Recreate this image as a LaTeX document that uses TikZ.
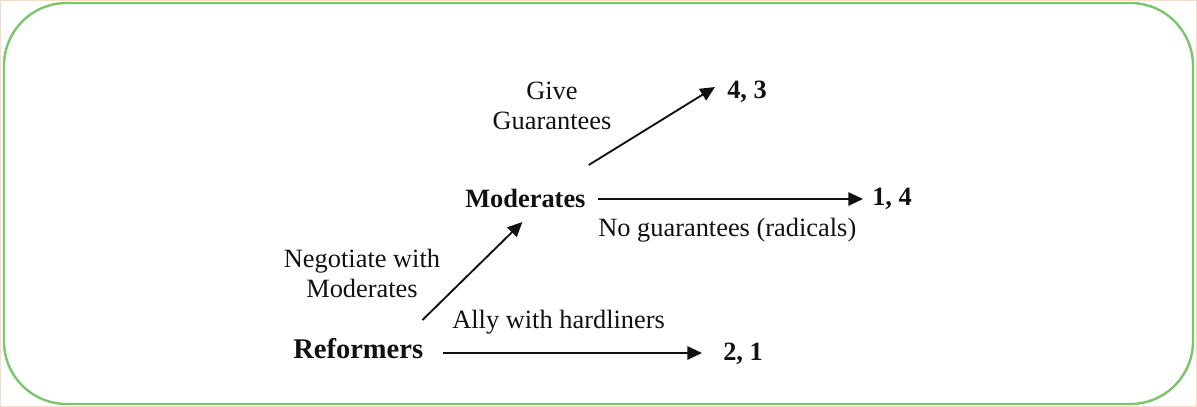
\documentclass[tikz,border=0pt]{standalone}
\usepackage{fontspec}
\setmainfont{Liberation Serif}
\usepackage{xcolor}
\usetikzlibrary{arrows.meta,positioning}
\definecolor{frame}{HTML}{7CC56F}
\definecolor{edge}{HTML}{F8DCC8}
\definecolor{ink}{HTML}{111111}

\begin{document}
\begin{tikzpicture}[x=0.75pt,y=-0.75pt,
    player/.style={anchor=base west,inner sep=0pt,text=ink,font=\fontsize{19.8}{23}\selectfont\bfseries},
    payoff/.style={anchor=base west,inner sep=0pt,text=ink,font=\fontsize{19.8}{23}\selectfont\bfseries},
    choice/.style={inner sep=0pt,text=ink,align=center,font=\fontsize{19.8}{22.5}\selectfont},
    move/.style={draw=ink,line width=1.4pt,-{Triangle[length=11pt,width=10pt]}}]
        \useasboundingbox (0,0) rectangle (1197,407);
        \draw[edge,line width=0.75pt] (0.5,0.5) rectangle (1196.5,406.5);
        \draw[frame,line width=1.8pt,rounded corners=47pt] (4,3) rectangle (1193,404);
        % players
        \node[player,font=\fontsize{21.4}{24}\selectfont\bfseries] (ref) at (293,358) {Reformers};
        \node[player] (mod) at (465,207) {Moderates};
        % outcomes
        \node[payoff] (o21) at (723,360) {2, 1};
        \node[payoff] (o14) at (872,205) {1, 4};
        \node[payoff] (o43) at (727,98) {4, 3};
        % choices
        \node[choice,anchor=base west] (ally) at (452,328) {Ally with hardliners};
        \node[choice] (nego) at (362,273) {Negotiate with\\Moderates};
        \node[choice,anchor=base west] (nogu) at (598,236) {No guarantees (radicals)};
        \node[choice] (give) at (552,106) {Give\\Guarantees};
        % moves
        \draw[move] ([shift={(20,-5)}]ref.base east) -- ([shift={(-21,-7)}]o21.base west);
        \draw[move] ([shift={(-1,-38)}]ref.base east) -- ([shift={(-3,15)}]mod.base);
        \draw[move] ([shift={(12,-8)}]mod.base east) -- ([shift={(-9,-6)}]o14.base west);
        \draw[move] ([shift={(3,-42)}]mod.base east) -- ([shift={(-12,-11)}]o43.base west);
      \end{tikzpicture}
\end{document}
